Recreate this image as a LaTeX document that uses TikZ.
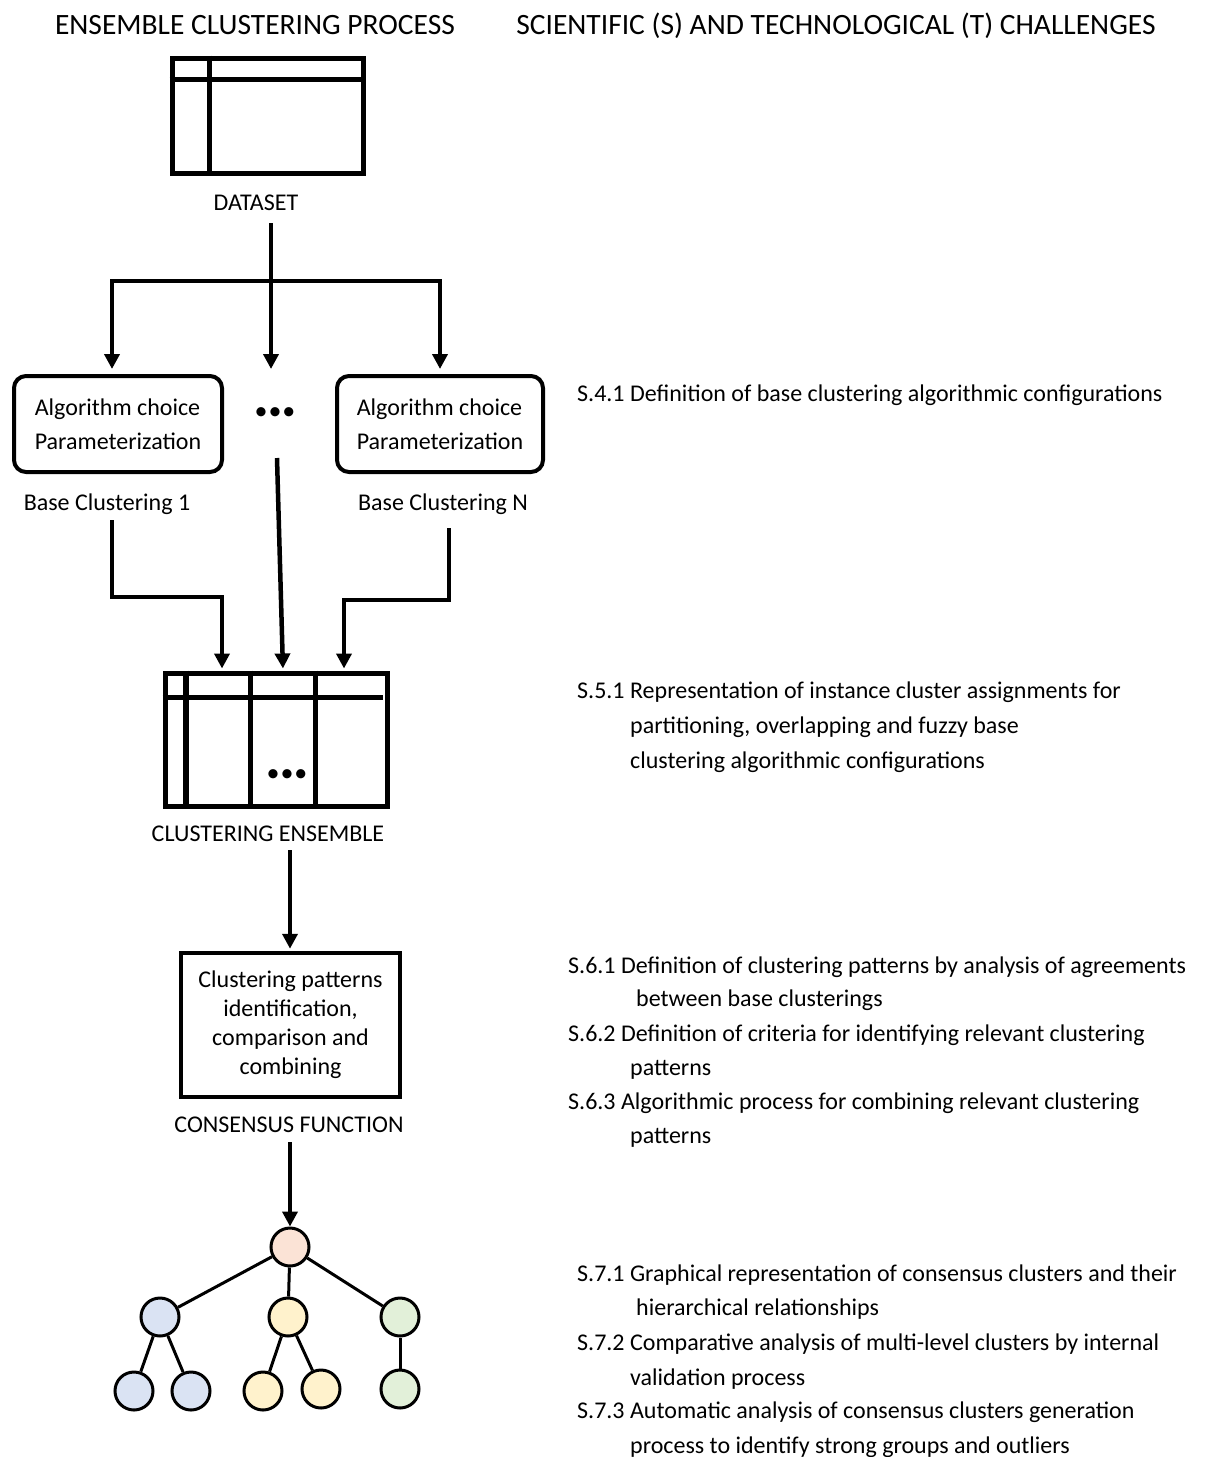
\documentclass[tikz,border=0pt]{standalone}
\usepackage{fontspec}
\setmainfont{Carlito}
\usetikzlibrary{arrows.meta,calc}
\definecolor{peach}{HTML}{FBE3D6}
\definecolor{lblue}{HTML}{DAE3F3}
\definecolor{lyellow}{HTML}{FFF2CC}
\definecolor{lgreen}{HTML}{E2F0D9}
\begin{document}
\begin{tikzpicture}[x=1pt,y=-1pt,
  txt/.style={inner sep=0pt, font=\fontsize{24}{34}\selectfont},
  ttl/.style={inner sep=0pt, font=\fontsize{29.5}{34}\selectfont},
  arr/.style={line width=4.5pt, -{Triangle[length=15pt,width=15pt]}},
  tblbox/.style={draw, line width=5pt, inner sep=0pt},
  tblline/.style={line width=5pt},
  algbox/.style={draw, line width=4pt, rounded corners=12pt, align=left, inner sep=0pt, minimum height=96pt, font=\fontsize{24}{34}\selectfont},
  consbox/.style={draw, line width=4.5pt, align=center, inner sep=0pt, minimum width=219pt, minimum height=144pt, font=\fontsize{24}{29}\selectfont},
  circ/.style={circle, draw, line width=3pt, minimum size=38pt, inner sep=0pt},
  tedge/.style={line width=3pt},
  dots/.style={inner sep=0pt, font=\fontsize{26}{26}\selectfont}]
\useasboundingbox (0,0) rectangle (1206,1457);
\fill[white] (0,0) rectangle (1206,1457);

% titles
\node[ttl, anchor=base] (t1) at (255,34) {ENSEMBLE CLUSTERING PROCESS};
\node[ttl, anchor=base] (t2) at (836,34) {SCIENTIFIC (S) AND TECHNOLOGICAL (T) CHALLENGES};

% dataset
\node[tblbox, minimum width=191pt, minimum height=115pt] (ds) at (267.5,115.5) {};
\draw[tblline] ($(ds.north west)+(0,24)$) -- ($(ds.north east)+(0,24)$);
\draw[tblline] ($(ds.north west)+(40,0)$) -- ($(ds.south west)+(40,0)$);
\node[txt, anchor=base] (dsl) at (256,210) {DATASET};

% base clusterings
\node[algbox, minimum width=208pt] (bc1) at (118,424) {Algorithm choice\\Parameterization};
\node[algbox, minimum width=206pt] (bcN) at (440,424) {Algorithm choice\\Parameterization};
\node[dots] (dd) at (275,414) {\textbullet\hspace{1pt}\textbullet\hspace{1pt}\textbullet};
\node[txt, anchor=base] (l1) at (107,510) {Base Clustering 1};
\node[txt, anchor=base] (lN) at (443,510) {Base Clustering N};

% connectors dataset -> base clusterings
\coordinate (t0) at (271,223);
\coordinate (bar) at (271,281);
\draw[arr, shorten >=5pt] (t0) -- (t0 |- bc1.north);
\draw[arr, shorten >=5pt] (bar) -| ([xshift=-6pt]bc1.north);
\draw[arr, shorten >=5pt] (bar) -| (bcN.north);

% clustering ensemble table
\node[tblbox, minimum width=222pt, minimum height=133pt] (ce) at (276,739.5) {};
\draw[tblline] ($(ce.north west)+(0,27)$) -- ($(ce.north east)+(-7,27)$);
\draw[line width=6pt] ($(ce.north west)+(23,0)$) -- ($(ce.south west)+(23,0)$);
\draw[tblline] ($(ce.north west)+(88,0)$) -- ($(ce.south west)+(88,0)$);
\draw[tblline] ($(ce.north west)+(153,0)$) -- ($(ce.south west)+(153,0)$);
\node[dots] (ced) at (287,776) {\textbullet\hspace{1pt}\textbullet\hspace{1pt}\textbullet};
\node[txt, anchor=base] (cel) at (268,841) {CLUSTERING ENSEMBLE};

% connectors base clusterings -> ensemble
\coordinate (c1) at (112,520);
\coordinate (c2) at (449,528);
\coordinate (m0) at (277,458);
\draw[arr, shorten >=2pt] (c1) -- (c1 |- 0,597) -| ([xshift=-54pt]ce.north);
\draw[arr, shorten >=2pt] (m0) -- ([xshift=7pt]ce.north);
\draw[arr, shorten >=2pt] (c2) -- (c2 |- 0,600) -| ([xshift=68pt]ce.north);

% consensus function
\node[consbox] (cf) at (290.5,1025) {Clustering patterns\\identification,\\comparison and\\combining};
\node[txt, anchor=base] (cfl) at (289,1132) {CONSENSUS FUNCTION};
\coordinate (e0) at (290,850);
\draw[arr, shorten >=2pt] (e0) -- (e0 |- cf.north);

% tree
\node[circ, fill=peach] (root) at (290,1247) {};
\node[circ, fill=lblue] (a) at (160,1317) {};
\node[circ, fill=lyellow] (b) at (288,1317) {};
\node[circ, fill=lgreen] (c) at (400,1317) {};
\node[circ, fill=lblue] (a1) at (134,1391) {};
\node[circ, fill=lblue] (a2) at (191,1391) {};
\node[circ, fill=lyellow] (b1) at (263,1391) {};
\node[circ, fill=lyellow] (b2) at (321,1389) {};
\node[circ, fill=lgreen] (c1n) at (400,1389) {};
\coordinate (f0) at (290,1142);
\draw[arr] (f0) -- (root.north);
\draw[tedge] (root) -- (a);
\draw[tedge] (root) -- (b);
\draw[tedge] (root) -- (c);
\draw[tedge] (a) -- (a1);
\draw[tedge] (a) -- (a2);
\draw[tedge] (b) -- (b1);
\draw[tedge] (b) -- (b2);
\draw[tedge] (c) -- (c1n);

% challenges
\node[txt, anchor=base west] (s41) at (577,401) {S.4.1 Definition of base clustering algorithmic configurations};

\node[txt, anchor=base west] (s51) at (577,698) {S.5.1 Representation of instance cluster assignments for};
\node[txt, anchor=base west] (s51b) at (630,733) {partitioning, overlapping and fuzzy base};
\node[txt, anchor=base west] (s51c) at (630,768) {clustering algorithmic configurations};

\node[txt, anchor=base west] (s61) at (568,973) {S.6.1 Definition of clustering patterns by analysis of agreements};
\node[txt, anchor=base west] (s61b) at (636,1006) {between base clusterings};
\node[txt, anchor=base west] (s62) at (568,1041) {S.6.2 Definition of criteria for identifying relevant clustering};
\node[txt, anchor=base west] (s62b) at (630,1075) {patterns};
\node[txt, anchor=base west] (s63) at (568,1109) {S.6.3 Algorithmic process for combining relevant clustering};
\node[txt, anchor=base west] (s63b) at (630,1143) {patterns};

\node[txt, anchor=base west] (s71) at (577,1281) {S.7.1 Graphical representation of consensus clusters and their};
\node[txt, anchor=base west] (s71b) at (636,1315) {hierarchical relationships};
\node[txt, anchor=base west] (s72) at (577,1350) {S.7.2 Comparative analysis of multi-level clusters by internal};
\node[txt, anchor=base west] (s72b) at (630,1385) {validation process};
\node[txt, anchor=base west] (s73) at (577,1418) {S.7.3 Automatic analysis of consensus clusters generation};
\node[txt, anchor=base west] (s73b) at (630,1453) {process to identify strong groups and outliers};
\end{tikzpicture}
\end{document}
